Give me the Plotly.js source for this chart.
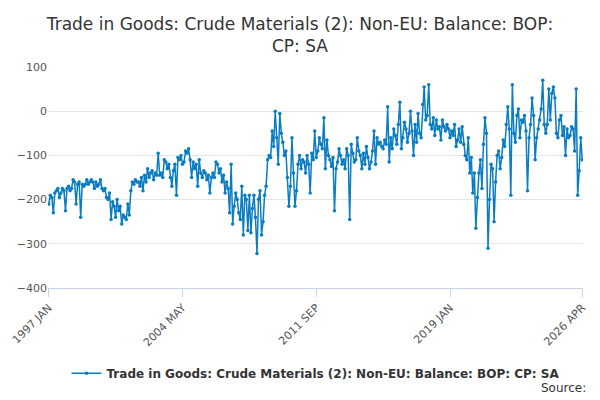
<!DOCTYPE html>
<html>
<head>
<meta charset="utf-8">
<script src="https://cdn.plot.ly/plotly-3.0.1.min.js"></script>
<style>body{margin:0;}#chart{width:600px;height:400px;}</style>
</head>
<body>
<div id="chart"></div>
<script>
// monthly balance, £m, 1997 JAN .. 2026 APR
var startYear = 1997;
var monthNames = ["JAN","FEB","MAR","APR","MAY","JUN","JUL","AUG","SEP","OCT","NOV","DEC"];
var tickLabels = ["1997 JAN", "2004 MAY", "2011 SEP", "2019 JAN", "2026 APR"];
var seriesName = "Trade in Goods: Crude Materials (2): Non-EU: Balance: BOP: CP: SA";

var values = [
  -210,-190,-195,-230,-185,-180,-175,-195,-185,-175,-180,-225,
  -175,-170,-180,-175,-155,-160,-210,-165,-160,-240,-165,-170,
  -165,-155,-165,-160,-155,-160,-175,-160,-170,-165,-155,-175,
  -180,-175,-195,-200,-185,-245,-205,-215,-240,-200,-225,-215,
  -255,-235,-240,-245,-210,-235,-180,-160,-165,-155,-160,-160,
  -170,-150,-180,-145,-160,-130,-150,-140,-135,-155,-140,-145,
  -95,-145,-140,-150,-110,-115,-130,-120,-150,-170,-135,-120,
  -190,-105,-110,-100,-120,-115,-90,-95,-85,-110,-150,-115,
  -130,-120,-170,-110,-140,-150,-135,-140,-155,-145,-185,-150,
  -140,-150,-115,-120,-140,-130,-160,-145,-185,-160,-175,-230,
  -120,-255,-215,-185,-200,-230,-245,-170,-280,-190,-200,-270,
  -190,-275,-220,-190,-240,-322,-200,-180,-280,-250,-190,-170,
  -110,-100,-105,-45,-80,0,-60,-120,-5,-50,-70,-100,
  -90,-150,-215,-170,-60,-140,-215,-180,-120,-100,-130,-110,
  -115,-140,-100,-120,-185,-95,-110,-45,-105,-90,-60,-75,
  -85,-15,-130,-65,-100,-110,-125,-105,-225,-130,-115,-85,
  -100,-120,-110,-130,-85,-100,-245,-75,-95,-115,-110,-60,
  -90,-100,-130,-95,-120,-80,-105,-130,-115,-90,-45,-120,
  -60,-75,-70,-80,-85,-65,-75,10,-115,-60,-85,-40,
  -55,-75,-30,20,-85,-60,-25,-40,-70,-50,0,-45,
  -100,-30,-70,-5,-50,-60,15,55,-20,-10,60,-30,
  -40,-15,-55,-20,-40,-35,-65,-20,-35,-45,-30,-40,
  -60,-45,-55,-30,-80,-65,-40,-70,-35,-75,-100,-110,
  -60,-140,-105,-185,-140,-265,-195,-140,-110,-175,-75,-15,
  -50,-310,-200,-120,-130,-250,-160,-100,-90,-130,-105,-65,
  -80,-30,10,-40,-190,60,-50,-70,-10,5,-60,-20,
  -25,-10,-45,-180,-60,-30,30,-10,-110,-60,-40,-20,
  5,70,-30,-50,-30,50,-20,40,55,30,-50,-60,
  -20,-10,-55,-35,-100,-40,-60,-55,-35,-40,-90,50,
  -190,-135,-60,-110
];

var dates = [];
for (var i = 0; i < values.length; i++) {
    dates.push((startYear + Math.floor(i / 12)) + " " + monthNames[i % 12]);
}

var trace = {
    x: dates,
    y: values,
    type: 'scatter',
    mode: 'lines+markers',
    name: seriesName,
    line: { color: '#0a7dc2', width: 1.5 },
    marker: { color: '#0a7dc2', size: 3.5 }
};

var layout = {
    width: 600, height: 400,
    margin: { l: 48, r: 17, t: 67, b: 108 },
    font: { family: 'DejaVu Sans, sans-serif', color: '#555', size: 11 },
    title: {
        text: 'Trade in Goods: Crude Materials (2): Non-EU: Balance: BOP:<br>CP: SA',
        font: { size: 17, color: '#333' },
        x: 0.5, xanchor: 'center',
        y: 0.925, yanchor: 'middle',
        automargin: false
    },
    xaxis: {
        type: 'category',
        tickvals: tickLabels,
        ticktext: tickLabels,
        tickangle: -45,
        showgrid: false,
        showline: true,
        linecolor: '#c8d4e6',
        ticks: 'outside',
        tickcolor: '#c8d4e6',
        ticklen: 8,
        automargin: false,
        range: [-0.5, values.length - 0.5]
    },
    yaxis: {
        range: [-400, 100],
        dtick: 100,
        gridcolor: '#e4e4e4',
        zeroline: false,
        ticks: '',
        automargin: false
    },
    showlegend: true,
    legend: {
        orientation: 'h',
        x: 0.5, xanchor: 'center',
        y: -0.32, yanchor: 'top',
        font: { size: 12, color: '#333', weight: 'bold' }
    },
    annotations: [{
        text: 'Source:', xref: 'paper', yref: 'paper',
        x: 1.01, xanchor: 'right', y: -0.41, yanchor: 'top',
        showarrow: false, font: { size: 12, color: '#333' }
    }],
    plot_bgcolor: '#fff', paper_bgcolor: '#fff'
};

Plotly.newPlot('chart', [trace], layout, { displayModeBar: false });
</script>
</body>
</html>
